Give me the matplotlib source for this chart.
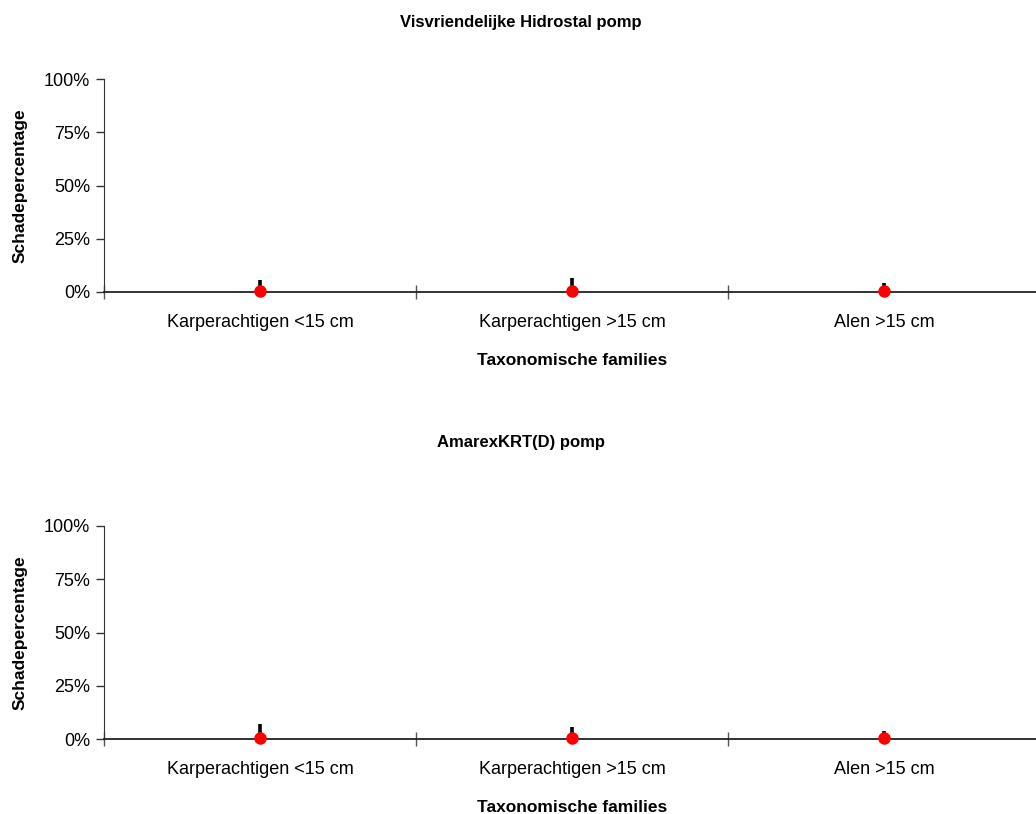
import matplotlib
matplotlib.use("Agg")
import matplotlib.pyplot as plt
from matplotlib.ticker import PercentFormatter

plt.rcParams['font.family'] = ['Liberation Sans', 'DejaVu Sans']

categories = ["Karperachtigen <15 cm", "Karperachtigen >15 cm", "Alen >15 cm"]
y_ticks = [0, 25, 50, 75, 100]

panel_titles = ["Visvriendelijke Hidrostal pomp", "AmarexKRT(D) pomp"]
x_label = "Taxonomische families"
y_label = "Schadepercentage"

# Mean damage percentage per category and upper error (percentage points)
hidrostal_mean = [0.4, 0.4, 0.3]
hidrostal_err_up = [5.2, 6.2, 3.7]
amarex_mean = [0.4, 0.4, 0.3]
amarex_err_up = [6.6, 5.1, 3.4]

panels = [(hidrostal_mean, hidrostal_err_up), (amarex_mean, amarex_err_up)]

W, H = 1036, 814
fig = plt.figure(figsize=(W / 100, H / 100), dpi=100)

axes_px = [(79, 292), (526, 739)]       # (top, bottom) of plot area in pixels
title_y_px = [22, 443]

for (top, bot), ty, title, (means, errs) in zip(axes_px, title_y_px, panel_titles, panels):
    left = 104 / W
    width = 936 / W
    ax = fig.add_axes([left, 1 - bot / H, width, (bot - top) / H])
    x = [i + 0.5 for i in range(len(categories))]
    lower = [m for m in means]
    ax.errorbar(x, means, yerr=[lower, errs], fmt='none', ecolor='black',
                elinewidth=2.6, capsize=0, zorder=2)
    ax.plot(x, means, 'o', color='#ff0000', markersize=8, zorder=3, clip_on=False)

    ax.set_xlim(0, 3)
    ax.set_ylim(0, 100)
    ax.set_yticks(y_ticks)
    ax.yaxis.set_major_formatter(PercentFormatter(decimals=0))
    ax.set_xticks([0, 1, 2, 3])
    ax.set_xticklabels([])
    ax.set_xticks(x, minor=True)
    ax.set_xticklabels(categories, minor=True, fontsize=13)
    ax.tick_params(axis='x', which='minor', length=0, pad=16)
    ax.tick_params(axis='x', which='major', direction='inout', length=10, width=1, color='#555555')
    ax.tick_params(axis='y', direction='out', length=6, width=1, labelsize=13, pad=4, color='#333333')

    for s in ['top', 'right']:
        ax.spines[s].set_visible(False)
    ax.spines['left'].set_color('#333333')
    ax.spines['bottom'].set_color('#222222')
    ax.spines['bottom'].set_linewidth(1.3)

    ax.set_xlabel(x_label, fontsize=12.5, fontweight='bold', labelpad=16)
    ax.set_ylabel(y_label, fontsize=12.5, fontweight='bold', labelpad=12)

    fig.text(521 / W, 1 - ty / H, title, ha='center', va='center',
             fontsize=12, fontweight='bold')

fig.savefig("out.png", dpi=100, facecolor='white')
